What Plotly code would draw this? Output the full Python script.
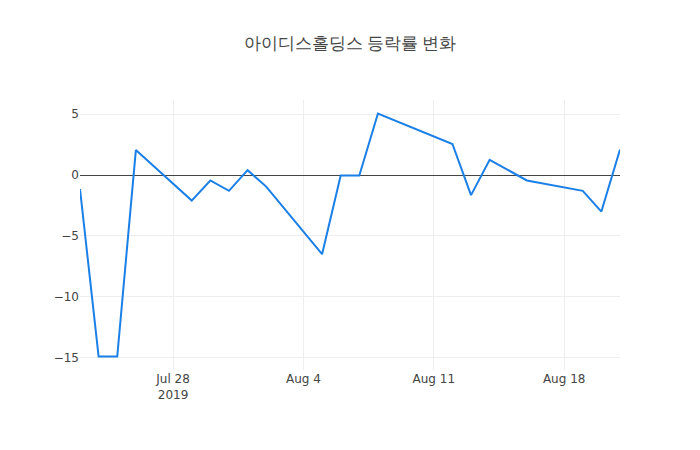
import plotly.graph_objects as go

dates = [
    '2019-07-23', '2019-07-24', '2019-07-25', '2019-07-26',
    '2019-07-29', '2019-07-30', '2019-07-31', '2019-08-01', '2019-08-02',
    '2019-08-05', '2019-08-06', '2019-08-07', '2019-08-08',
    '2019-08-12', '2019-08-13', '2019-08-14', '2019-08-16',
    '2019-08-19', '2019-08-20', '2019-08-21',
]
change_pct = [
    -1.15, -14.9, -14.9, 2.05,
    -2.1, -0.45, -1.3, 0.4, -0.95,
    -6.5, -0.05, -0.05, 5.05,
    2.55, -1.65, 1.25, -0.45,
    -1.3, -3.0, 2.1,
]

fig = go.Figure()
fig.add_trace(go.Scatter(
    x=dates,
    y=change_pct,
    mode='lines',
    line=dict(color='#1a7fe6', width=2),
    name='등락률'
))

# page body adds an 8px offset, so margins and title are shifted to compensate
fig.update_layout(
    title=dict(text='아이디스홀딩스 등락률 변화', x=342 / 700, xanchor='center',
               y=1 - 35 / 450, yref='container', yanchor='middle',
               font=dict(family='"Open Sans", verdana, arial, sans-serif',
                         size=17, color='#444')),
    width=700,
    height=450,
    margin=dict(l=72, r=88, t=92, b=88),
    paper_bgcolor='white',
    plot_bgcolor='white',
    showlegend=False,
    font=dict(family='DejaVu Sans, Noto Sans CJK KR', color='#444')
)
fig.update_xaxes(showgrid=True, gridcolor='#eee', showline=False, zeroline=False,
                 automargin=False, ticks='', dtick=7 * 24 * 3600 * 1000, tick0='2019-07-28')
fig.update_yaxes(showgrid=True, gridcolor='#eee', zeroline=True, zerolinecolor='#444',
                 zerolinewidth=1, showline=False, automargin=False, ticks='', dtick=5)

fig.write_html("out.html")
